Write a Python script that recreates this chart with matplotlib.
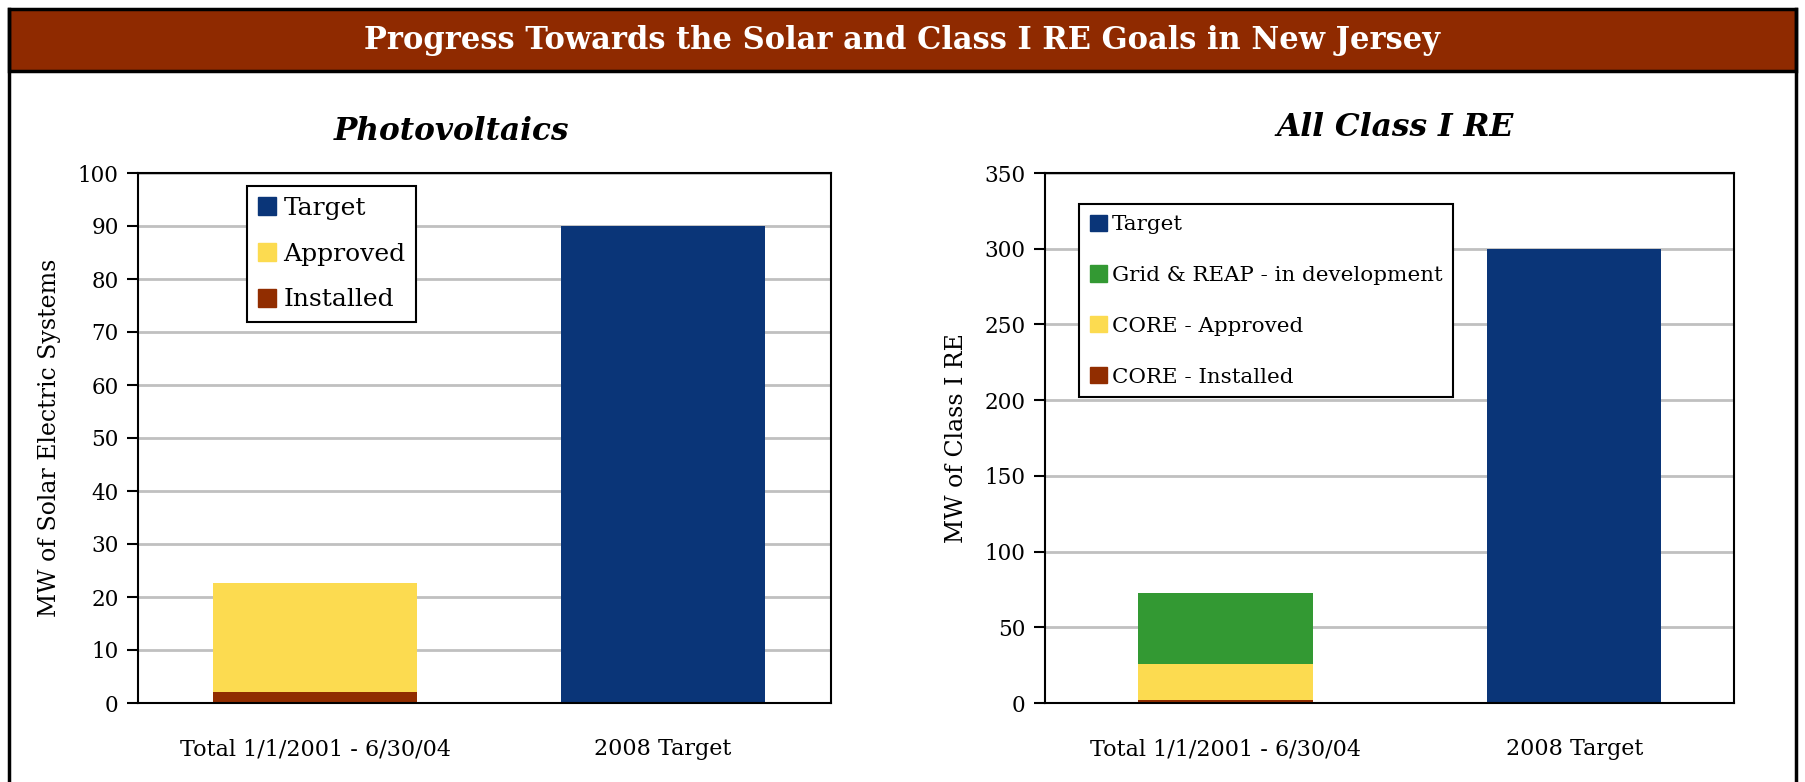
import matplotlib
matplotlib.use("Agg")
import matplotlib.pyplot as plt
from matplotlib.patches import Rectangle, Patch
from matplotlib.lines import Line2D

plt.rcParams['font.family'] = ['DejaVu Serif']

# Data
categories = ["Total 1/1/2001 - 6/30/04", "2008 Target"]
pv_installed = [2.1, 0]
pv_approved = [20.5, 0]
pv_target = [0, 90]
re_installed = [2, 0]
re_approved = [23.7, 0]
re_grid = [46.8, 0]
re_target = [0, 300]
pv_yticks = list(range(0, 101, 10))
re_yticks = list(range(0, 351, 50))

C_TARGET = '#0A3578'
C_APPROVED = '#FCDB50'
C_INSTALLED = '#912D00'
C_GRID = '#339933'
C_BAR = '#8F2A00'

W, H = 1805, 782
fig = plt.figure(figsize=(W / 100, H / 100), dpi=100)

# Outer frame and title bar
fig.add_artist(Line2D([9 / W, 9 / W], [0, 1 - 9 / H], color='black', lw=2.5, transform=fig.transFigure))
fig.add_artist(Line2D([1796 / W, 1796 / W], [0, 1 - 9 / H], color='black', lw=2.5, transform=fig.transFigure))
fig.add_artist(Rectangle((9 / W, 1 - 71 / H), (1796 - 9) / W, 62 / H, facecolor=C_BAR,
                         edgecolor='black', lw=2.5, transform=fig.transFigure))
fig.text(0.5, 1 - 41 / H, "Progress Towards the Solar and Class I RE Goals in New Jersey",
         ha='center', va='center', color='white', fontsize=22, fontweight='bold')


def style_axes(ax, yticks, xlim):
    ax.set_ylim(yticks[0], yticks[-1])
    ax.set_yticks(yticks)
    ax.set_xlim(*xlim)
    ax.set_xticks(range(len(categories)))
    ax.set_xticklabels(categories)
    ax.yaxis.grid(True, color='#C0C0C0', lw=2)
    ax.set_axisbelow(True)
    for s in ax.spines.values():
        s.set_linewidth(1.5)
        s.set_color('black')
    ax.tick_params(axis='y', direction='out', length=8, width=1.5, labelsize=15.5, pad=6)
    ax.tick_params(axis='x', length=0, labelsize=16, pad=25.5)


x = range(len(categories))

# Left: Photovoltaics
ax1 = fig.add_axes([138 / W, 1 - 703 / H, 693 / W, 530 / H])
ax1.bar(x, pv_installed, width=0.586, color=C_INSTALLED)
ax1.bar(x, pv_approved, width=0.586, bottom=pv_installed, color=C_APPROVED)
ax1.bar(x, pv_target, width=0.586, color=C_TARGET)
style_axes(ax1, pv_yticks, (-0.51, 1.483))
ax1.set_ylabel("MW of Solar Electric Systems", fontsize=17, labelpad=12)
fig.text(451 / W, 1 - 131 / H, "Photovoltaics", ha='center', va='center',
         fontsize=22.4, fontweight='bold', style='italic')
h1 = [Patch(color=C_TARGET), Patch(color=C_APPROVED), Patch(color=C_INSTALLED)]
leg1 = ax1.legend(h1, ["Target", "Approved", "Installed"], loc='upper left',
                  bbox_to_anchor=(247 / W, 1 - 186 / H), bbox_transform=fig.transFigure,
                  fancybox=False, framealpha=1, edgecolor='black', fontsize=18,
                  handlelength=0.72, handleheight=0.72, handletextpad=0.32, labelspacing=0.92,
                  borderpad=0.42, borderaxespad=0)
leg1.get_frame().set_linewidth(1.5)

# Right: All Class I RE
ax2 = fig.add_axes([1045 / W, 1 - 703 / H, 689 / W, 530 / H])
ax2.bar(x, re_installed, width=0.5, color=C_INSTALLED)
b = [re_installed[i] + re_approved[i] for i in x]
ax2.bar(x, re_approved, width=0.5, bottom=re_installed, color=C_APPROVED)
ax2.bar(x, re_grid, width=0.5, bottom=b, color=C_GRID)
ax2.bar(x, re_target, width=0.5, color=C_TARGET)
style_axes(ax2, re_yticks, (-0.518, 1.458))
ax2.set_ylabel("MW of Class I RE", fontsize=17, labelpad=12)
fig.text(1395 / W, 1 - 127 / H, "All Class I RE", ha='center', va='center',
         fontsize=22.5, fontweight='bold', style='italic')
h2 = [Patch(color=C_TARGET), Patch(color=C_GRID), Patch(color=C_APPROVED), Patch(color=C_INSTALLED)]
leg2 = ax2.legend(h2, ["Target", "Grid & REAP - in development", "CORE - Approved", "CORE - Installed"],
                  loc='upper left', bbox_to_anchor=(1079 / W, 1 - 204 / H), bbox_transform=fig.transFigure,
                  fancybox=False, framealpha=1, edgecolor='black', fontsize=15.4,
                  handlelength=0.79, handleheight=0.79, handletextpad=0.23, labelspacing=1.46,
                  borderpad=0.5, borderaxespad=0)
leg2.get_frame().set_linewidth(1.5)

fig.savefig("out.png", dpi=100)
